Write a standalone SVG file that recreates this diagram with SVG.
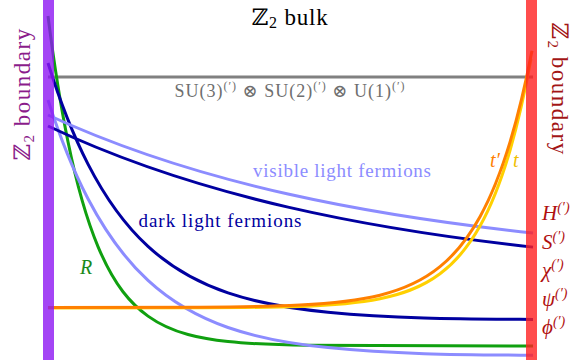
<svg xmlns="http://www.w3.org/2000/svg" width="581" height="360" viewBox="0 0 581 360">
<style>
  .c { fill: none; stroke-width: 3; stroke-linecap: butt; }
  .serif { font-family: "Liberation Serif", "DejaVu Serif", serif; }
  .it { font-style: italic; }
  .rl { fill: #b01010; font-size: 21px; }
  .sup { font-size: 14px; }
  .bnd { font-size: 23px; letter-spacing: 1.5px; }
</style>
<rect width="581" height="360" fill="#ffffff"/>
<g id="curves">
  <path id="gauge" class="c" stroke="#808080" d="M48,77 L533,77"/>
  <path id="green-R" class="c" stroke="#10a010" d="M48,16 C54.67,68.8 61.33,109.1 68,141.8 C78,190.8 88,222.75 98,246.6 C114.67,286.35 131.33,304.13 148,316.1 C161.33,325.67 174.67,330.87 188,334.54 C201.33,338.21 214.67,340.21 228,341.61 C254.67,344.42 281.33,344.95 308,345.36 L533,346"/>
  <path id="lightblue-steep" class="c" stroke="#8c8cff" d="M48,100 C61.33,141.64 74.67,173.24 88,198.8 C108,237.14 128,261.96 148,280.4 C174.67,304.99 201.33,318.23 228,327.5 C261.33,339.09 294.67,344.18 328,347.6 C396.33,354.61 464.67,354.73 533,355.3"/>
  <path id="darkblue-steep" class="c" stroke="#0000a0" d="M48,63 C61.33,105.83 74.67,138.13 88,164.1 C108,203.06 128,228 148,246.4 C174.67,270.93 201.33,283.87 228,292.9 C261.33,304.19 294.67,308.97 328,312.2 C396.33,318.83 464.67,318.89 533,319.4"/>
  <path id="lightblue-shallow" class="c" stroke="#8c8cff" d="M48,115 C128,151.96 208,176.04 288,194.03 C369.67,212.4 451.33,224.26 533,233.06"/>
  <path id="darkblue-shallow" class="c" stroke="#0000a0" d="M48,126 C128,163.92 208,188.64 288,207.1 C369.67,225.94 451.33,238.09 533,247.12"/>
  <path id="yellow-t" class="c" stroke="#ffd000" d="M48,308 L200,307.8 C233.33,307.67 266.67,307.58 300,306.4 C326.67,305.46 353.33,304.08 380,298.7 C400,294.66 420,288.73 440,273.8 C453.33,263.85 466.67,249.9 480,226.1 C490,208.25 500,184.83 510,150.5 C517,126.47 524,97.08 531,59.1"/>
  <path id="orange-tp" class="c" stroke="#ff8000" d="M48,307.5 L200,307.2 C233.33,306.98 266.67,306.65 300,305 C326.67,303.68 353.33,301.75 380,295.2 C400,290.29 420,283.02 440,266.7 C453.33,255.82 466.67,240.91 480,216.7 C490,198.54 500,175.18 510,142.1 C517.33,117.84 524.67,88.36 532,50.7"/>
</g>
<g id="left-boundary">
  <rect x="43" y="0" width="11" height="360" fill="#8d16f2" fill-opacity="0.8"/>
  <text class="serif bnd" transform="translate(30,94) rotate(-90)" text-anchor="middle" fill="#8b1c8b">ℤ<tspan font-size="15" dy="4">2</tspan><tspan dy="-4"> boundary</tspan></text>
</g>
<g id="right-boundary">
  <rect x="526" y="0" width="11" height="360" fill="#ff2020" fill-opacity="0.8"/>
  <text class="serif bnd" transform="translate(552,89) rotate(90)" text-anchor="middle" fill="#a31515">ℤ<tspan font-size="15" dy="4">2</tspan><tspan dy="-4"> boundary</tspan></text>
</g>
<g id="bulk">
  <text class="serif" x="290" y="25" text-anchor="middle" font-size="23" letter-spacing="0.8" fill="#000">ℤ<tspan font-size="16" dy="3">2</tspan><tspan dy="-3"> bulk</tspan></text>
</g>
<g id="gauge-label">
  <text class="serif" x="290" y="97" text-anchor="middle" font-size="18" letter-spacing="1" fill="#6e6e6e">SU(3)<tspan font-size="12" dy="-7">(′)</tspan><tspan dy="7"> ⊗ SU(2)</tspan><tspan font-size="12" dy="-7">(′)</tspan><tspan dy="7"> ⊗ U(1)</tspan><tspan font-size="12" dy="-7">(′)</tspan></text>
</g>
<g id="fermion-labels">
  <text class="serif" x="253" y="177" font-size="19" fill="#8c8cff" textLength="178" lengthAdjust="spacing">visible light fermions</text>
  <text class="serif" x="138.5" y="227" font-size="19" fill="#0000a0" textLength="163" lengthAdjust="spacing">dark light fermions</text>
  <text class="serif it" x="80" y="274" font-size="20" fill="#1a8a1a">R</text>
  <text class="serif it" x="490" y="167" font-size="20" fill="#ff8000">t′</text>
  <text class="serif it" x="513" y="167" font-size="20" fill="#f0c000">t</text>
</g>
<g id="field-labels">
  <text class="serif it rl" x="542" y="220">H<tspan class="sup" dy="-8">(′)</tspan></text>
  <text class="serif it rl" x="542" y="248.5">S<tspan class="sup" dy="-8">(′)</tspan></text>
  <text class="serif it rl" x="542" y="277">χ<tspan class="sup" dy="-8">(′)</tspan></text>
  <text class="serif it rl" x="542" y="305.5">ψ<tspan class="sup" dy="-8">(′)</tspan></text>
  <text class="serif it rl" x="542" y="334">ϕ<tspan class="sup" dy="-8">(′)</tspan></text>
</g>
</svg>
